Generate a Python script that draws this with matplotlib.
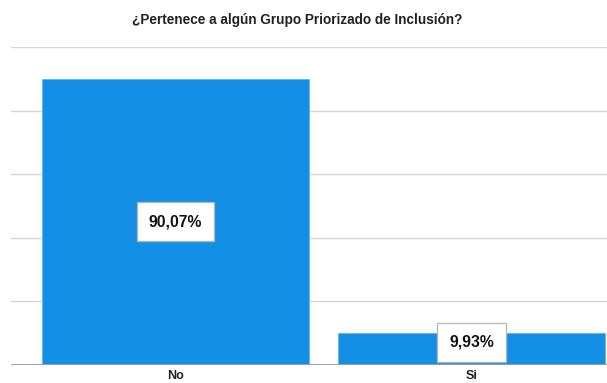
import matplotlib.pyplot as plt

plt.rcParams["font.family"] = ["Liberation Sans", "DejaVu Sans"]

categories = ["No", "Si"]
values = [90.07, 9.93]
labels = ["90,07%", "9,93%"]
title = "¿Pertenece a algún Grupo Priorizado de Inclusión?"

W, H = 607, 383
fig = plt.figure(figsize=(W / 100, H / 100), dpi=100)
ax = fig.add_axes([11 / W, (H - 364.5) / H, 596 / W, (364.5 - 47.3) / H])

x = list(range(len(categories)))
ax.bar(x, values, width=0.9, color="#1390E6", edgecolor="#5fb3ef", linewidth=0.6, zorder=2)

for yv in [20, 40, 60, 80, 100]:
    ax.axhline(yv, color="#d6d6d6", linewidth=1.0, zorder=1)
ax.axhline(0, color="#9e9e9e", linewidth=1.4, zorder=3)

# label boxes: the small bar's box sits a bit higher than its middle
offsets = [0, 2.0]
for xi, v, lab, off in zip(x, values, labels, offsets):
    ax.text(xi, v / 2 + off, lab, ha="center", va="center", fontsize=11.3, fontweight="bold",
            color="#111111", zorder=4,
            bbox=dict(boxstyle="square,pad=0.75", facecolor="white", edgecolor="#b5b5b5", linewidth=0.9))

ax.set_xlim(-0.555, 1.457)
ax.set_ylim(0, 100)
ax.set_xticks(x)
ax.set_xticklabels(categories, fontsize=9, fontweight="bold", color="#222222")
ax.tick_params(axis="x", length=0, pad=4)
ax.set_yticks([])
for s in ax.spines.values():
    s.set_visible(False)

fig.text(297 / W, 1 - 20 / H, title, ha="center", va="center", fontsize=9.8, fontweight="bold", color="#222222")

fig.savefig("out.png", dpi=100)
